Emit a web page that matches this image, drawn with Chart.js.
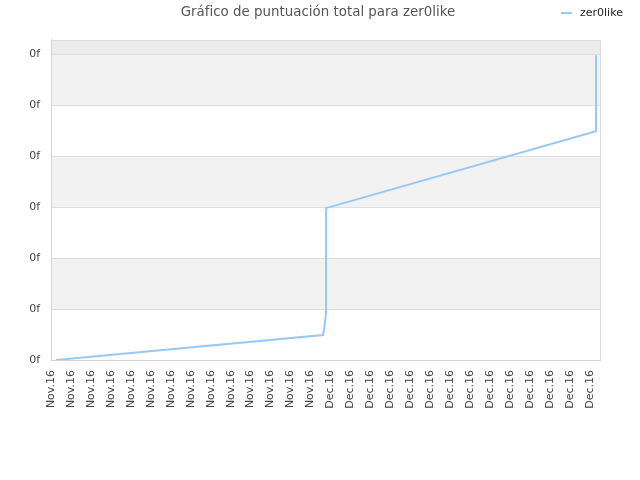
<!DOCTYPE html>
<html lang="es">
<head>
    <meta charset="UTF-8">
    <title>Gráfico de puntuación total para zer0like</title>
    <script src="https://cdn.jsdelivr.net/npm/chart.js"></script>
    <style>
        html, body { margin: 0; padding: 0; background: #fff; }
        #wrap { width: 640px; height: 480px; }
    </style>
</head>
<body>
    <div id="wrap"><canvas id="chart" width="640" height="480"></canvas></div>

    <script>
        // data (x = position along the time axis, y = score)
        const seriesName = 'zer0like';
        const xValues = [0.5, 27.25, 27.35, 27.55, 27.55, 54.6, 54.6];
        const scores  = [0, 0.49, 0.59, 0.9, 2.98, 4.49, 5.98];

        // tick labels
        const xTickLabels = [
            'Nov.16', 'Nov.16', 'Nov.16', 'Nov.16', 'Nov.16', 'Nov.16', 'Nov.16',
            'Nov.16', 'Nov.16', 'Nov.16', 'Nov.16', 'Nov.16', 'Nov.16', 'Nov.16',
            'Dec.16', 'Dec.16', 'Dec.16', 'Dec.16', 'Dec.16', 'Dec.16', 'Dec.16',
            'Dec.16', 'Dec.16', 'Dec.16', 'Dec.16', 'Dec.16', 'Dec.16', 'Dec.16'
        ];
        const yTickLabels = ['0f', '0f', '0f', '0f', '0f', '0f', '0f'];

        const lineColor = '#98c8f5';
        const font = 'DejaVu Sans';

        // alternating background bands + frame around the plot
        const bands = {
            id: 'bands',
            beforeDraw(chart) {
                const { ctx, chartArea: a, scales: { y } } = chart;
                ctx.save();
                for (let i = 0; i < yTickLabels.length; i++) {
                    const top = i + 1 < yTickLabels.length ? y.getPixelForValue(i + 1) : a.top;
                    const bottom = y.getPixelForValue(i);
                    if (i === yTickLabels.length - 1) ctx.fillStyle = '#ececec';
                    else if (i % 2 === 1) ctx.fillStyle = '#f2f2f2';
                    else continue;
                    ctx.fillRect(a.left, top, a.right - a.left, bottom - top);
                }
                ctx.restore();
            },
            afterDraw(chart) {
                const { ctx, chartArea: a } = chart;
                ctx.save();
                ctx.strokeStyle = '#dcdcdc';
                ctx.lineWidth = 1;
                ctx.beginPath();
                ctx.moveTo(a.left, a.top + 0.5);
                ctx.lineTo(a.right + 0.5, a.top + 0.5);
                ctx.lineTo(a.right + 0.5, a.bottom);
                ctx.stroke();

                // legend in the title row, top right
                ctx.strokeStyle = lineColor;
                ctx.lineWidth = 2;
                ctx.beginPath();
                ctx.moveTo(561, 13);
                ctx.lineTo(572, 13);
                ctx.stroke();
                ctx.fillStyle = '#222';
                ctx.font = '11px "' + font + '"';
                ctx.textBaseline = 'middle';
                ctx.fillText(chart.data.datasets[0].label, 580, 13);
                ctx.restore();
            }
        };

        new Chart(document.getElementById('chart'), {
            type: 'line',
            data: {
                datasets: [{
                    label: seriesName,
                    data: xValues.map((x, i) => ({ x: x, y: scores[i] })),
                    borderColor: lineColor,
                    backgroundColor: lineColor,
                    borderWidth: 2,
                    pointRadius: 0,
                    tension: 0,
                    fill: false
                }]
            },
            options: {
                responsive: false,
                animation: false,
                layout: { padding: { left: 0, right: 4, top: 0, bottom: 0 } },
                plugins: {
                    legend: { display: false },
                    tooltip: { enabled: false },
                    title: {
                        display: true,
                        text: 'Gráfico de puntuación total para zer0like',
                        color: '#555',
                        font: { family: font, size: 13.4, weight: 'normal' },
                        padding: { top: 4, bottom: 19.9 }
                    }
                },
                scales: {
                    x: {
                        type: 'linear',
                        min: 0,
                        max: 55,
                        afterBuildTicks: axis => {
                            axis.ticks = xTickLabels.map((_, i) => ({ value: i * 2 }));
                        },
                        afterFit: axis => { axis.height = 120; },
                        grid: { display: false, drawTicks: false },
                        border: { display: true, color: '#d4d4d4' },
                        ticks: {
                            autoSkip: false,
                            minRotation: 90,
                            maxRotation: 90,
                            padding: 10,
                            color: '#444',
                            font: { family: font, size: 11 },
                            callback: v => xTickLabels[Math.round(v / 2)]
                        }
                    },
                    y: {
                        min: 0,
                        max: 6.28,
                        afterBuildTicks: axis => {
                            axis.ticks = yTickLabels.map((_, i) => ({ value: i }));
                        },
                        afterFit: axis => { axis.width = 51; },
                        grid: { color: '#dedede', drawTicks: false },
                        border: { display: true, color: '#d4d4d4' },
                        ticks: {
                            padding: 11,
                            color: '#444',
                            font: { family: font, size: 11 },
                            callback: (v, i) => yTickLabels[i]
                        }
                    },
                    // empty right-hand axis, only reserves the right margin
                    spacer: {
                        type: 'linear',
                        position: 'right',
                        afterFit: axis => { axis.width = 36; },
                        grid: { display: false, drawTicks: false },
                        border: { display: false },
                        ticks: { display: false }
                    }
                }
            },
            plugins: [bands]
        });
    </script>
</body>
</html>
